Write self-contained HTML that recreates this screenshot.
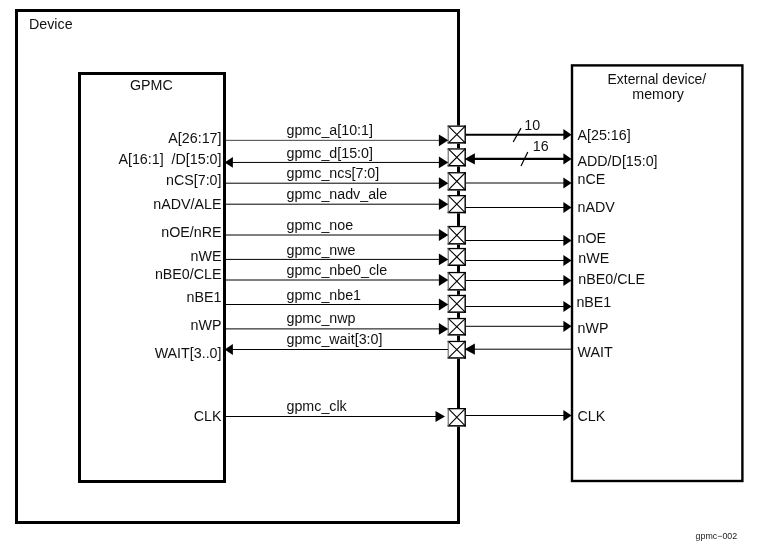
<!DOCTYPE html>
<html><head><meta charset="utf-8"><title>GPMC</title>
<style>html,body{margin:0;padding:0;background:#fff;}body{width:759px;height:556px;overflow:hidden;font-family:"Liberation Sans",sans-serif;}svg{display:block;will-change:transform;}</style>
</head><body>
<svg width="759" height="556" viewBox="0 0 759 556">
<rect width="759" height="556" fill="#fff"/>
<rect x="16.5" y="10.5" width="442" height="512" fill="none" stroke="#000" stroke-width="3"/>
<rect x="79.5" y="73.5" width="145" height="408" fill="none" stroke="#000" stroke-width="3"/>
<rect x="572" y="65.4" width="170.4" height="415.6" fill="none" stroke="#000" stroke-width="2.4"/>
<rect x="447.6" y="125.5" width="18.30" height="18.10" fill="#fff"/>
<path d="M448.40,126.15 L465.20,142.85 M465.20,126.15 L448.40,142.85" stroke="#000" stroke-width="1.1"/>
<line x1="447.6" y1="126.15" x2="465.9" y2="126.15" stroke="#000" stroke-width="1.3"/>
<line x1="447.6" y1="142.85" x2="465.9" y2="142.85" stroke="#000" stroke-width="1.5"/>
<line x1="465.20" y1="125.5" x2="465.20" y2="143.6" stroke="#000" stroke-width="1.4"/>
<line x1="448.2" y1="125.80" x2="448.2" y2="143.30" stroke="#555" stroke-width="1"/>
<rect x="447.6" y="148.3" width="18.30" height="18.20" fill="#fff"/>
<path d="M448.40,148.95 L465.20,165.75 M465.20,148.95 L448.40,165.75" stroke="#000" stroke-width="1.1"/>
<line x1="447.6" y1="148.95" x2="465.9" y2="148.95" stroke="#000" stroke-width="1.3"/>
<line x1="447.6" y1="165.75" x2="465.9" y2="165.75" stroke="#000" stroke-width="1.5"/>
<line x1="465.20" y1="148.3" x2="465.20" y2="166.5" stroke="#000" stroke-width="1.4"/>
<line x1="448.2" y1="148.60" x2="448.2" y2="166.20" stroke="#555" stroke-width="1"/>
<rect x="447.6" y="172.1" width="18.30" height="18.50" fill="#fff"/>
<path d="M448.40,172.75 L465.20,189.85 M465.20,172.75 L448.40,189.85" stroke="#000" stroke-width="1.1"/>
<line x1="447.6" y1="172.75" x2="465.9" y2="172.75" stroke="#000" stroke-width="1.3"/>
<line x1="447.6" y1="189.85" x2="465.9" y2="189.85" stroke="#000" stroke-width="1.5"/>
<line x1="465.20" y1="172.1" x2="465.20" y2="190.6" stroke="#000" stroke-width="1.4"/>
<line x1="448.2" y1="172.40" x2="448.2" y2="190.30" stroke="#555" stroke-width="1"/>
<rect x="447.6" y="195.0" width="18.30" height="18.30" fill="#fff"/>
<path d="M448.40,195.65 L465.20,212.55 M465.20,195.65 L448.40,212.55" stroke="#000" stroke-width="1.1"/>
<line x1="447.6" y1="195.65" x2="465.9" y2="195.65" stroke="#000" stroke-width="1.3"/>
<line x1="447.6" y1="212.55" x2="465.9" y2="212.55" stroke="#000" stroke-width="1.5"/>
<line x1="465.20" y1="195.0" x2="465.20" y2="213.3" stroke="#000" stroke-width="1.4"/>
<line x1="448.2" y1="195.30" x2="448.2" y2="213.00" stroke="#555" stroke-width="1"/>
<rect x="447.6" y="225.9" width="18.30" height="18.70" fill="#fff"/>
<path d="M448.40,226.55 L465.20,243.85 M465.20,226.55 L448.40,243.85" stroke="#000" stroke-width="1.1"/>
<line x1="447.6" y1="226.55" x2="465.9" y2="226.55" stroke="#000" stroke-width="1.3"/>
<line x1="447.6" y1="243.85" x2="465.9" y2="243.85" stroke="#000" stroke-width="1.5"/>
<line x1="465.20" y1="225.9" x2="465.20" y2="244.6" stroke="#000" stroke-width="1.4"/>
<line x1="448.2" y1="226.20" x2="448.2" y2="244.30" stroke="#555" stroke-width="1"/>
<rect x="447.6" y="247.9" width="18.30" height="18.10" fill="#fff"/>
<path d="M448.40,248.55 L465.20,265.25 M465.20,248.55 L448.40,265.25" stroke="#000" stroke-width="1.1"/>
<line x1="447.6" y1="248.55" x2="465.9" y2="248.55" stroke="#000" stroke-width="1.3"/>
<line x1="447.6" y1="265.25" x2="465.9" y2="265.25" stroke="#000" stroke-width="1.5"/>
<line x1="465.20" y1="247.9" x2="465.20" y2="266.0" stroke="#000" stroke-width="1.4"/>
<line x1="448.2" y1="248.20" x2="448.2" y2="265.70" stroke="#555" stroke-width="1"/>
<rect x="447.6" y="271.9" width="18.30" height="18.70" fill="#fff"/>
<path d="M448.40,272.55 L465.20,289.85 M465.20,272.55 L448.40,289.85" stroke="#000" stroke-width="1.1"/>
<line x1="447.6" y1="272.55" x2="465.9" y2="272.55" stroke="#000" stroke-width="1.3"/>
<line x1="447.6" y1="289.85" x2="465.9" y2="289.85" stroke="#000" stroke-width="1.5"/>
<line x1="465.20" y1="271.9" x2="465.20" y2="290.6" stroke="#000" stroke-width="1.4"/>
<line x1="448.2" y1="272.20" x2="448.2" y2="290.30" stroke="#555" stroke-width="1"/>
<rect x="447.6" y="294.8" width="18.30" height="18.10" fill="#fff"/>
<path d="M448.40,295.45 L465.20,312.15 M465.20,295.45 L448.40,312.15" stroke="#000" stroke-width="1.1"/>
<line x1="447.6" y1="295.45" x2="465.9" y2="295.45" stroke="#000" stroke-width="1.3"/>
<line x1="447.6" y1="312.15" x2="465.9" y2="312.15" stroke="#000" stroke-width="1.5"/>
<line x1="465.20" y1="294.8" x2="465.20" y2="312.9" stroke="#000" stroke-width="1.4"/>
<line x1="448.2" y1="295.10" x2="448.2" y2="312.60" stroke="#555" stroke-width="1"/>
<rect x="447.6" y="317.9" width="18.30" height="17.70" fill="#fff"/>
<path d="M448.40,318.55 L465.20,334.85 M465.20,318.55 L448.40,334.85" stroke="#000" stroke-width="1.1"/>
<line x1="447.6" y1="318.55" x2="465.9" y2="318.55" stroke="#000" stroke-width="1.3"/>
<line x1="447.6" y1="334.85" x2="465.9" y2="334.85" stroke="#000" stroke-width="1.5"/>
<line x1="465.20" y1="317.9" x2="465.20" y2="335.6" stroke="#000" stroke-width="1.4"/>
<line x1="448.2" y1="318.20" x2="448.2" y2="335.30" stroke="#555" stroke-width="1"/>
<rect x="447.6" y="340.8" width="18.30" height="17.90" fill="#fff"/>
<path d="M448.40,341.45 L465.20,357.95 M465.20,341.45 L448.40,357.95" stroke="#000" stroke-width="1.1"/>
<line x1="447.6" y1="341.45" x2="465.9" y2="341.45" stroke="#000" stroke-width="1.3"/>
<line x1="447.6" y1="357.95" x2="465.9" y2="357.95" stroke="#000" stroke-width="1.5"/>
<line x1="465.20" y1="340.8" x2="465.20" y2="358.7" stroke="#000" stroke-width="1.4"/>
<line x1="448.2" y1="341.10" x2="448.2" y2="358.40" stroke="#555" stroke-width="1"/>
<rect x="447.6" y="408.0" width="18.30" height="18.60" fill="#fff"/>
<path d="M448.40,408.65 L465.20,425.85 M465.20,408.65 L448.40,425.85" stroke="#000" stroke-width="1.1"/>
<line x1="447.6" y1="408.65" x2="465.9" y2="408.65" stroke="#000" stroke-width="1.3"/>
<line x1="447.6" y1="425.85" x2="465.9" y2="425.85" stroke="#000" stroke-width="1.5"/>
<line x1="465.20" y1="408.0" x2="465.20" y2="426.6" stroke="#000" stroke-width="1.4"/>
<line x1="448.2" y1="408.30" x2="448.2" y2="426.30" stroke="#555" stroke-width="1"/>
<line x1="226" y1="140.35" x2="440" y2="140.35" stroke="#444" stroke-width="1"/>
<path d="M448.3,140.35 L438.90000000000003,134.45 L438.90000000000003,146.25 Z" fill="#000"/>
<line x1="466" y1="134.7" x2="564" y2="134.7" stroke="#000" stroke-width="2.1"/>
<path d="M571.6,134.7 L563.4,129.1 L563.4,140.29999999999998 Z" fill="#000"/>
<line x1="232" y1="162.45" x2="440" y2="162.45" stroke="#000" stroke-width="1"/>
<path d="M448.3,162.45 L438.90000000000003,156.54999999999998 L438.90000000000003,168.35 Z" fill="#000"/>
<path d="M224.6,162.45 L232.9,157.04999999999998 L232.9,167.85 Z" fill="#000"/>
<line x1="474" y1="158.9" x2="564" y2="158.9" stroke="#000" stroke-width="2.1"/>
<path d="M464.6,158.9 L474.90000000000003,153.3 L474.90000000000003,164.5 Z" fill="#000"/>
<path d="M571.6,158.9 L563.4,153.3 L563.4,164.5 Z" fill="#000"/>
<line x1="226" y1="183.2" x2="440" y2="183.2" stroke="#000" stroke-width="1"/>
<path d="M448.3,183.2 L438.90000000000003,177.29999999999998 L438.90000000000003,189.1 Z" fill="#000"/>
<line x1="466" y1="183.0" x2="564" y2="183.0" stroke="#000" stroke-width="1"/>
<path d="M571.6,183.0 L563.4,177.4 L563.4,188.6 Z" fill="#000"/>
<line x1="226" y1="204.2" x2="440" y2="204.2" stroke="#000" stroke-width="1"/>
<path d="M448.3,204.2 L438.90000000000003,198.29999999999998 L438.90000000000003,210.1 Z" fill="#000"/>
<line x1="466" y1="207.5" x2="564" y2="207.5" stroke="#000" stroke-width="1"/>
<path d="M571.6,207.5 L563.4,201.9 L563.4,213.1 Z" fill="#000"/>
<line x1="226" y1="235.0" x2="440" y2="235.0" stroke="#000" stroke-width="1"/>
<path d="M448.3,235.0 L438.90000000000003,229.1 L438.90000000000003,240.9 Z" fill="#000"/>
<line x1="466" y1="240.5" x2="564" y2="240.5" stroke="#000" stroke-width="1"/>
<path d="M571.6,240.5 L563.4,234.9 L563.4,246.1 Z" fill="#000"/>
<line x1="226" y1="259.4" x2="440" y2="259.4" stroke="#000" stroke-width="1"/>
<path d="M448.3,259.4 L438.90000000000003,253.49999999999997 L438.90000000000003,265.29999999999995 Z" fill="#000"/>
<line x1="466" y1="260.5" x2="564" y2="260.5" stroke="#000" stroke-width="1"/>
<path d="M571.6,260.5 L563.4,254.9 L563.4,266.1 Z" fill="#000"/>
<line x1="226" y1="280.0" x2="440" y2="280.0" stroke="#000" stroke-width="1"/>
<path d="M448.3,280.0 L438.90000000000003,274.1 L438.90000000000003,285.9 Z" fill="#000"/>
<line x1="466" y1="280.5" x2="564" y2="280.5" stroke="#000" stroke-width="1"/>
<path d="M571.6,280.5 L563.4,274.9 L563.4,286.1 Z" fill="#000"/>
<line x1="226" y1="304.5" x2="440" y2="304.5" stroke="#000" stroke-width="1"/>
<path d="M448.3,304.5 L438.90000000000003,298.6 L438.90000000000003,310.4 Z" fill="#000"/>
<line x1="466" y1="306.5" x2="564" y2="306.5" stroke="#000" stroke-width="1"/>
<path d="M571.6,306.5 L563.4,300.9 L563.4,312.1 Z" fill="#000"/>
<line x1="226" y1="328.9" x2="440" y2="328.9" stroke="#000" stroke-width="1"/>
<path d="M448.3,328.9 L438.90000000000003,323.0 L438.90000000000003,334.79999999999995 Z" fill="#000"/>
<line x1="466" y1="326.3" x2="564" y2="326.3" stroke="#000" stroke-width="1"/>
<path d="M571.6,326.3 L563.4,320.7 L563.4,331.90000000000003 Z" fill="#000"/>
<line x1="232" y1="349.5" x2="448" y2="349.5" stroke="#000" stroke-width="1"/>
<path d="M224.6,349.5 L232.9,344.1 L232.9,354.9 Z" fill="#000"/>
<line x1="474" y1="349.2" x2="571" y2="349.2" stroke="#000" stroke-width="1"/>
<path d="M464.6,349.2 L474.90000000000003,343.59999999999997 L474.90000000000003,354.8 Z" fill="#000"/>
<line x1="226" y1="416.5" x2="437" y2="416.5" stroke="#000" stroke-width="1"/>
<path d="M445,416.5 L435.5,411.0 L435.5,422.0 Z" fill="#000"/>
<line x1="466" y1="415.5" x2="564" y2="415.5" stroke="#000" stroke-width="1"/>
<path d="M571.6,415.5 L563.4,409.9 L563.4,421.1 Z" fill="#000"/>
<line x1="521" y1="128.1" x2="513.2" y2="142" stroke="#000" stroke-width="1.2"/>
<line x1="527.8" y1="152.1" x2="521" y2="165.9" stroke="#000" stroke-width="1.2"/>
<text transform="translate(29,28.9) scale(1.02,1)" font-family="Liberation Sans, sans-serif" font-size="14" fill="#111" text-anchor="start" xml:space="preserve">Device</text>
<text transform="translate(130,90) scale(1.02,1)" font-family="Liberation Sans, sans-serif" font-size="14" fill="#111" text-anchor="start" xml:space="preserve">GPMC</text>
<text transform="translate(656.9,84.4) scale(0.99,1)" font-family="Liberation Sans, sans-serif" font-size="14" fill="#111" text-anchor="middle" xml:space="preserve">External device/</text>
<text transform="translate(658,98.8) scale(1.02,1)" font-family="Liberation Sans, sans-serif" font-size="14" fill="#111" text-anchor="middle" xml:space="preserve">memory</text>
<text transform="translate(221.5,142.9) scale(1.02,1)" font-family="Liberation Sans, sans-serif" font-size="14" fill="#111" text-anchor="end" xml:space="preserve">A[26:17]</text>
<text transform="translate(221.5,163.7) scale(1.02,1)" font-family="Liberation Sans, sans-serif" font-size="14" fill="#111" text-anchor="end" xml:space="preserve">A[16:1]  /D[15:0]</text>
<text transform="translate(221.5,185) scale(1.02,1)" font-family="Liberation Sans, sans-serif" font-size="14" fill="#111" text-anchor="end" xml:space="preserve">nCS[7:0]</text>
<text transform="translate(221.5,209) scale(1.02,1)" font-family="Liberation Sans, sans-serif" font-size="14" fill="#111" text-anchor="end" xml:space="preserve">nADV/ALE</text>
<text transform="translate(221.5,236.5) scale(1.02,1)" font-family="Liberation Sans, sans-serif" font-size="14" fill="#111" text-anchor="end" xml:space="preserve">nOE/nRE</text>
<text transform="translate(221.5,261) scale(1.02,1)" font-family="Liberation Sans, sans-serif" font-size="14" fill="#111" text-anchor="end" xml:space="preserve">nWE</text>
<text transform="translate(221.5,279) scale(1.02,1)" font-family="Liberation Sans, sans-serif" font-size="14" fill="#111" text-anchor="end" xml:space="preserve">nBE0/CLE</text>
<text transform="translate(221.5,301.8) scale(1.02,1)" font-family="Liberation Sans, sans-serif" font-size="14" fill="#111" text-anchor="end" xml:space="preserve">nBE1</text>
<text transform="translate(221.5,330) scale(1.02,1)" font-family="Liberation Sans, sans-serif" font-size="14" fill="#111" text-anchor="end" xml:space="preserve">nWP</text>
<text transform="translate(221.5,357.7) scale(1.02,1)" font-family="Liberation Sans, sans-serif" font-size="14" fill="#111" text-anchor="end" xml:space="preserve">WAIT[3..0]</text>
<text transform="translate(221.5,420.5) scale(1.02,1)" font-family="Liberation Sans, sans-serif" font-size="14" fill="#111" text-anchor="end" xml:space="preserve">CLK</text>
<text transform="translate(286.5,135) scale(1.02,1)" font-family="Liberation Sans, sans-serif" font-size="14" fill="#111" text-anchor="start" xml:space="preserve">gpmc_a[10:1]</text>
<text transform="translate(286.5,158.2) scale(1.02,1)" font-family="Liberation Sans, sans-serif" font-size="14" fill="#111" text-anchor="start" xml:space="preserve">gpmc_d[15:0]</text>
<text transform="translate(286.5,178) scale(1.02,1)" font-family="Liberation Sans, sans-serif" font-size="14" fill="#111" text-anchor="start" xml:space="preserve">gpmc_ncs[7:0]</text>
<text transform="translate(286.5,199) scale(1.02,1)" font-family="Liberation Sans, sans-serif" font-size="14" fill="#111" text-anchor="start" xml:space="preserve">gpmc_nadv_ale</text>
<text transform="translate(286.5,230.2) scale(1.02,1)" font-family="Liberation Sans, sans-serif" font-size="14" fill="#111" text-anchor="start" xml:space="preserve">gpmc_noe</text>
<text transform="translate(286.5,255) scale(1.02,1)" font-family="Liberation Sans, sans-serif" font-size="14" fill="#111" text-anchor="start" xml:space="preserve">gpmc_nwe</text>
<text transform="translate(286.5,274.7) scale(1.02,1)" font-family="Liberation Sans, sans-serif" font-size="14" fill="#111" text-anchor="start" xml:space="preserve">gpmc_nbe0_cle</text>
<text transform="translate(286.5,299.8) scale(1.02,1)" font-family="Liberation Sans, sans-serif" font-size="14" fill="#111" text-anchor="start" xml:space="preserve">gpmc_nbe1</text>
<text transform="translate(286.5,322.7) scale(1.02,1)" font-family="Liberation Sans, sans-serif" font-size="14" fill="#111" text-anchor="start" xml:space="preserve">gpmc_nwp</text>
<text transform="translate(286.5,344) scale(1.02,1)" font-family="Liberation Sans, sans-serif" font-size="14" fill="#111" text-anchor="start" xml:space="preserve">gpmc_wait[3:0]</text>
<text transform="translate(286.5,411.1) scale(1.02,1)" font-family="Liberation Sans, sans-serif" font-size="14" fill="#111" text-anchor="start" xml:space="preserve">gpmc_clk</text>
<text transform="translate(577.5,140) scale(1.02,1)" font-family="Liberation Sans, sans-serif" font-size="14" fill="#111" text-anchor="start" xml:space="preserve">A[25:16]</text>
<text transform="translate(577.5,166) scale(1.02,1)" font-family="Liberation Sans, sans-serif" font-size="14" fill="#111" text-anchor="start" xml:space="preserve">ADD/D[15:0]</text>
<text transform="translate(577.5,184) scale(1.02,1)" font-family="Liberation Sans, sans-serif" font-size="14" fill="#111" text-anchor="start" xml:space="preserve">nCE</text>
<text transform="translate(577.5,212) scale(1.02,1)" font-family="Liberation Sans, sans-serif" font-size="14" fill="#111" text-anchor="start" xml:space="preserve">nADV</text>
<text transform="translate(577.5,243) scale(1.02,1)" font-family="Liberation Sans, sans-serif" font-size="14" fill="#111" text-anchor="start" xml:space="preserve">nOE</text>
<text transform="translate(578.3,263) scale(1.02,1)" font-family="Liberation Sans, sans-serif" font-size="14" fill="#111" text-anchor="start" xml:space="preserve">nWE</text>
<text transform="translate(578.3,284) scale(1.02,1)" font-family="Liberation Sans, sans-serif" font-size="14" fill="#111" text-anchor="start" xml:space="preserve">nBE0/CLE</text>
<text transform="translate(576.4,307) scale(1.02,1)" font-family="Liberation Sans, sans-serif" font-size="14" fill="#111" text-anchor="start" xml:space="preserve">nBE1</text>
<text transform="translate(577.5,333) scale(1.02,1)" font-family="Liberation Sans, sans-serif" font-size="14" fill="#111" text-anchor="start" xml:space="preserve">nWP</text>
<text transform="translate(577.5,357) scale(1.02,1)" font-family="Liberation Sans, sans-serif" font-size="14" fill="#111" text-anchor="start" xml:space="preserve">WAIT</text>
<text transform="translate(577.5,421) scale(1.02,1)" font-family="Liberation Sans, sans-serif" font-size="14" fill="#111" text-anchor="start" xml:space="preserve">CLK</text>
<text transform="translate(524.3,129.7) scale(1.02,1)" font-family="Liberation Sans, sans-serif" font-size="14" fill="#111" text-anchor="start" xml:space="preserve">10</text>
<text transform="translate(532.8,150.8) scale(1.02,1)" font-family="Liberation Sans, sans-serif" font-size="14" fill="#111" text-anchor="start" xml:space="preserve">16</text>
<text transform="translate(695.6,539) scale(0.985,1)" font-family="Liberation Sans, sans-serif" font-size="9" fill="#222" text-anchor="start" xml:space="preserve">gpmc−002</text>
</svg>
</body></html>
